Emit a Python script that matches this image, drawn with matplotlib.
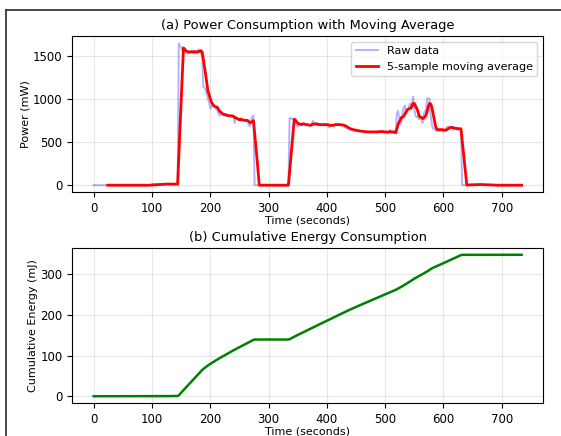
import numpy as np
import matplotlib
matplotlib.use('Agg')
import matplotlib.pyplot as plt
from matplotlib.lines import Line2D

# ---------------- data ----------------
# raw sample timestamps (seconds)
time_s = [
    0, 6, 12, 18, 24, 30, 36, 42, 48, 54, 60, 66, 72, 78, 84, 90, 96,
    102, 108, 114, 120, 126, 132, 138, 144,
    146, 148, 150, 152, 154, 156, 158, 160, 162, 164,
    166, 168, 170, 172, 174, 176, 178, 180, 182, 184,
    186, 188, 190, 192, 194, 196, 198, 200, 202, 204,
    206, 208, 210, 212, 214, 216, 218, 220, 222, 224,
    226, 228, 230, 232, 234, 236, 238, 240, 242, 244,
    246, 248, 250, 252, 254, 256, 258, 260, 262, 264,
    266, 268, 270, 272, 274, 276,
    278, 280, 282, 284, 290, 296, 302, 308, 314, 320, 326, 332, 334,
    336, 338, 340, 342, 344, 346, 348, 350, 352, 354,
    356, 358, 360, 362, 364, 366, 368, 370, 372, 374,
    376, 378, 380, 382, 384, 386, 388, 390, 392, 394,
    396, 398, 400, 402, 404, 406, 408, 410, 412, 414,
    416, 418, 420, 422, 424, 426, 428, 430, 432, 434,
    436, 438, 440, 442, 444, 446, 448, 450, 452, 454,
    456, 458, 460, 462, 464, 466, 468, 470, 472, 474,
    476, 478, 480, 482, 484, 486, 488, 490, 492, 494,
    496, 498, 500, 502, 504, 506, 508, 510, 512, 514,
    516, 518, 520, 522, 524, 526, 528, 530, 532, 534,
    536, 538, 540, 542, 544, 546, 548, 550, 552, 554,
    556, 558, 560, 562, 564, 566, 568, 570, 572, 574,
    576, 578, 580, 582, 584, 586, 588, 590, 592, 594,
    596, 598, 600, 602, 604, 606, 608, 610, 612, 614,
    616, 618, 620, 622, 624, 626, 628, 630,
    632, 634, 636, 638, 640, 646, 652, 658, 664, 670, 676, 682, 688,
    694, 700, 706, 712, 718, 724, 730, 734,
]

# raw power samples (mW)
power_mw = [
    0, 0, 0, 0, 0, 0, 0, 0, 0, 0, 0, 0, 0, 0, 0, 0, 0,
    14, 12, 13, 12, 14, 12, 13, 12,
    1643, 1610, 1600, 1560, 1545, 1560, 1535, 1550, 1525, 1555,
    1540, 1560, 1535, 1550, 1530, 1555, 1540, 1575, 1555, 1565,
    1480, 1140, 1130, 1100, 1060, 1000, 960, 890, 900, 940,
    920, 900, 880, 870, 830, 805, 850, 820, 810, 815,
    800, 810, 805, 800, 810, 800, 795, 790, 720, 790,
    770, 760, 755, 760, 750, 760, 745, 740, 755, 750,
    700, 680, 760, 790, 810, 0,
    0, 0, 0, 0, 0, 0, 0, 0, 0, 0, 0, 0, 0,
    775, 780, 770, 760, 740, 720, 700, 680, 720, 710,
    700, 720, 705, 700, 690, 700, 695, 690, 700, 710,
    745, 700, 705, 695, 700, 710, 700, 705, 695, 700,
    710, 700, 705, 690, 670, 700, 705, 700, 700, 705,
    700, 705, 700, 700, 695, 700, 690, 680, 670, 660,
    655, 650, 645, 640, 645, 635, 630, 635, 625, 630,
    625, 620, 625, 620, 615, 620, 615, 620, 615, 620,
    615, 620, 615, 620, 615, 620, 625, 615, 630, 615,
    620, 610, 615, 620, 610, 615, 640, 610, 615, 605,
    610, 600, 830, 860, 780, 700, 760, 850, 910, 920,
    820, 880, 880, 940, 930, 960, 1025, 880, 800, 790,
    800, 760, 800, 780, 720, 820, 850, 880, 1000, 1010,
    1000, 820, 700, 660, 650, 640, 625, 640, 650, 660,
    640, 630, 620, 640, 660, 670, 680, 670, 660, 675,
    650, 660, 650, 665, 640, 660, 650, 655,
    0, 0, 0, 0, 8, 8, 8, 8, 8, 0, 0, 0, 0,
    0, 0, 0, 0, 0, 0, 0, 0,
]

window = 5
title_a = "(a) Power Consumption with Moving Average"
title_b = "(b) Cumulative Energy Consumption"
xlabel = "Time (seconds)"
ylabel_a = "Power (mW)"
ylabel_b = "Cumulative Energy (mJ)"
legend_labels = ["Raw data", "5-sample moving average"]

# ---------------- derived series ----------------
t = np.asarray(time_s, dtype=float)
p = np.asarray(power_mw, dtype=float)
ma = np.convolve(p, np.ones(window) / window, mode="valid")
t_ma = t[window - 1:]
energy = np.concatenate([[0.0], np.cumsum(np.diff(t) * (p[1:] + p[:-1]) / 2.0)]) / 1000.0

# ---------------- figure ----------------
fig = plt.figure(figsize=(5.61, 4.36), dpi=100)
W, H = 561.0, 436.0

def axes_px(left, top, right, bottom):
    return [left / W, 1 - bottom / H, (right - left) / W, (bottom - top) / H]

ax1 = fig.add_axes(axes_px(72.3, 36.3, 543, 192.3))
ax2 = fig.add_axes(axes_px(72.3, 247.7, 543, 403.3))

ax1.plot(t, p, color="blue", alpha=0.3, lw=1.4, label=legend_labels[0])
ax1.plot(t_ma, ma, color="red", lw=2.0, label=legend_labels[1])
ax1.set_title(title_a, fontsize=9.4, pad=5)
ax1.set_xlabel(xlabel, fontsize=8, labelpad=0.5)
ax1.set_ylabel(ylabel_a, fontsize=8, labelpad=2)
ax1.grid(True, alpha=0.3)
ax1.legend(loc="upper right", fontsize=8)
ax1.set_yticks([0, 500, 1000, 1500])
ax1.tick_params(labelsize=8.5)

ax2.plot(t, energy, color="green", lw=1.8)
ax2.set_title(title_b, fontsize=9.4, pad=5)
ax2.set_xlabel(xlabel, fontsize=8, labelpad=0.5)
ax2.set_ylabel(ylabel_b, fontsize=8, labelpad=2)
ax2.grid(True, alpha=0.3)
ax2.set_yticks([0, 100, 200, 300])
ax2.tick_params(labelsize=8.5)

for ax in (ax1, ax2):
    ax.set_xticks([0, 100, 200, 300, 400, 500, 600, 700])

# outer frame partially visible in the reference
fig.add_artist(Line2D([6 / W, 6 / W], [0, 1 - 10 / H], transform=fig.transFigure,
                      color="#3a3a3a", lw=1.3))
fig.add_artist(Line2D([6 / W, 1], [1 - 10 / H, 1 - 10 / H], transform=fig.transFigure,
                      color="#3a3a3a", lw=1.3))

fig.savefig("out.png", dpi=100)
